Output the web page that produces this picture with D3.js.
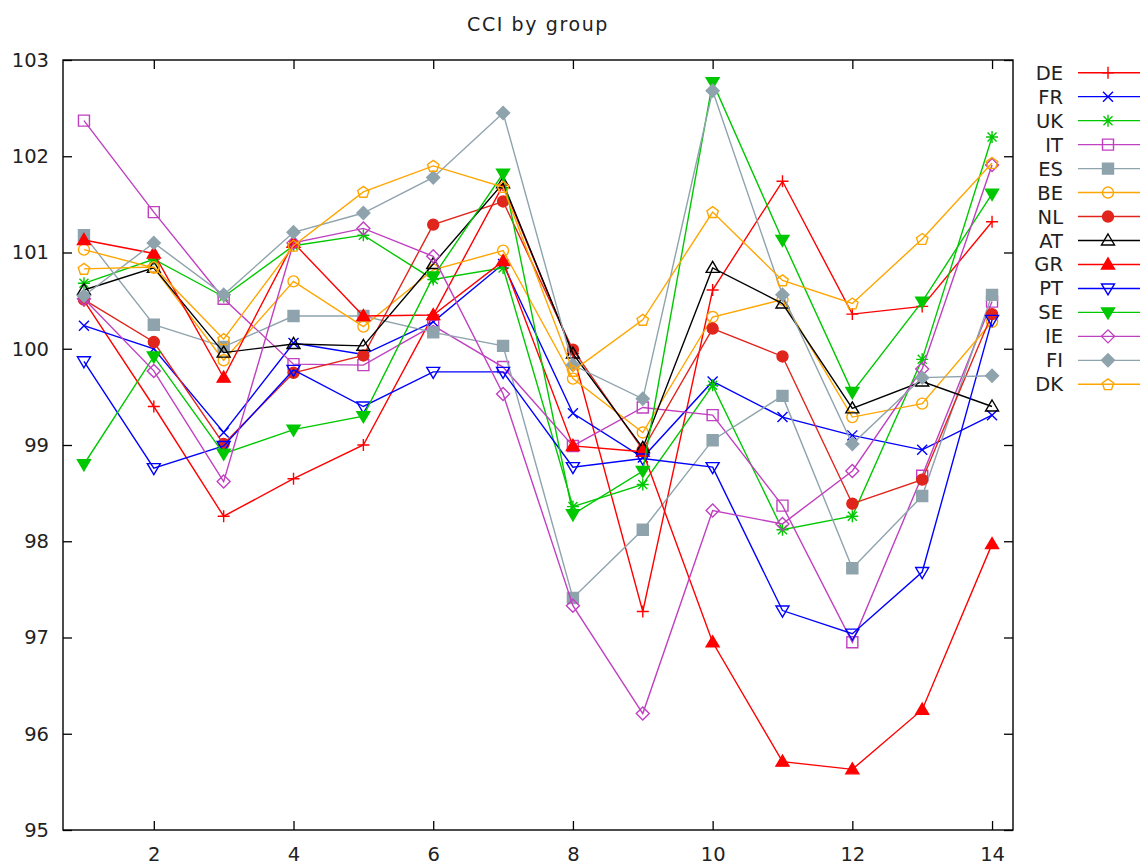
<!DOCTYPE html>
<html>
<head>
<meta charset="utf-8">
<script src="https://cdn.jsdelivr.net/npm/d3@7"></script>
<style>
  html, body { margin: 0; padding: 0; background: #fff; }
  svg { display: block; }
  text { font-family: "DejaVu Sans", Verdana, sans-serif; fill: #222; }
</style>
</head>
<body>
<svg id="chart" width="1146" height="866"></svg>
<script>
// ---------- data ----------
const periods = [1, 2, 3, 4, 5, 6, 7, 8, 9, 10, 11, 12, 13, 14];
const xTicks = [2, 4, 6, 8, 10, 12, 14];
const yTicks = [95, 96, 97, 98, 99, 100, 101, 102, 103];
const seriesNames = ["DE", "FR", "UK", "IT", "ES", "BE", "NL", "AT", "GR", "PT", "SE", "IE", "FI", "DK"];

const DE = [100.50, 99.40, 98.26, 98.65, 99.00, 100.35, 101.70, 99.95, 97.27, 100.61, 101.74, 100.36, 100.44, 101.32];
const FR = [100.24, 100.00, 99.13, 100.06, 99.94, 100.28, 100.88, 99.33, 98.87, 99.66, 99.29, 99.10, 98.95, 99.31];
const UK = [100.68, 100.93, 100.54, 101.07, 101.18, 100.72, 100.84, 98.36, 98.59, 99.62, 98.12, 98.26, 99.89, 102.20];
const IT = [102.37, 101.42, 100.52, 99.84, 99.83, 100.24, 99.81, 98.99, 99.39, 99.31, 98.37, 96.95, 98.68, 100.49];
const ES = [101.18, 100.25, 100.02, 100.34, 100.34, 100.17, 100.03, 97.41, 98.12, 99.05, 99.51, 97.72, 98.47, 100.56];
const BE = [101.03, 100.84, 99.88, 100.70, 100.23, 100.82, 101.02, 99.69, 99.13, 100.33, 100.51, 99.29, 99.43, 100.28];
const NL = [100.51, 100.07, 99.01, 99.75, 99.93, 101.29, 101.53, 99.99, 98.95, 100.21, 99.92, 98.39, 98.64, 100.36];
const AT = [100.61, 100.84, 99.96, 100.05, 100.03, 100.88, 101.72, 99.95, 98.97, 100.84, 100.47, 99.38, 99.66, 99.40];
const GR = [101.13, 100.99, 99.70, 101.10, 100.34, 100.35, 100.91, 98.99, 98.93, 96.95, 95.71, 95.63, 96.25, 97.97];
const PT = [99.87, 98.76, 98.99, 99.78, 99.40, 99.76, 99.76, 98.77, 98.86, 98.77, 97.28, 97.04, 97.68, 100.30];
const SE = [98.80, 99.92, 98.91, 99.16, 99.30, 100.75, 101.82, 98.28, 98.73, 102.77, 101.13, 99.55, 100.49, 101.61];
const IE = [100.52, 99.77, 98.62, 101.10, 101.25, 100.96, 99.53, 97.33, 96.21, 98.32, 98.18, 98.73, 99.79, 101.91];
const FI = [100.55, 101.10, 100.56, 101.21, 101.41, 101.78, 102.45, 99.83, 99.48, 102.68, 100.56, 99.01, 99.70, 99.72];
const DK = [100.83, 100.85, 100.10, 101.07, 101.63, 101.90, 101.68, 99.77, 100.30, 101.42, 100.71, 100.47, 101.14, 101.93];

const seriesValues = [DE, FR, UK, IT, ES, BE, NL, AT, GR, PT, SE, IE, FI, DK];

// ---------- styles ----------
const styles = {
  DE: { color: "#ff0000", marker: "plus", fill: false },
  FR: { color: "#0000ff", marker: "cross", fill: false },
  UK: { color: "#00c800", marker: "star", fill: false },
  IT: { color: "#c040c0", marker: "square", fill: false },
  ES: { color: "#8fa3ad", marker: "square", fill: true },
  BE: { color: "#ffa500", marker: "circle", fill: false },
  NL: { color: "#e0251c", marker: "circle", fill: true },
  AT: { color: "#000000", marker: "triUp", fill: false },
  GR: { color: "#ff0000", marker: "triUp", fill: true },
  PT: { color: "#0000ff", marker: "triDown", fill: false },
  SE: { color: "#00c800", marker: "triDown", fill: true },
  IE: { color: "#c040c0", marker: "diamond", fill: false },
  FI: { color: "#8fa3ad", marker: "diamond", fill: true },
  DK: { color: "#ffa500", marker: "pentagon", fill: false }
};

function markerPath(type) {
  switch (type) {
    case "plus": return "M-6,0H6M0,-6V6";
    case "cross": return "M-5,-5L5,5M-5,5L5,-5";
    case "star": return "M-6,0H6M0,-6V6M-4.5,-4.5L4.5,4.5M-4.5,4.5L4.5,-4.5";
    case "square": return "M-5.5,-5.5H5.5V5.5H-5.5Z";
    case "circle": return "M5.5,0A5.5,5.5,0,1,1,-5.5,0A5.5,5.5,0,1,1,5.5,0Z";
    case "triUp": return "M0,-6.5L6.5,4.5L-6.5,4.5Z";
    case "triDown": return "M0,6.5L6.5,-4.5L-6.5,-4.5Z";
    case "diamond": return "M0,-6.5L6.5,0L0,6.5L-6.5,0Z";
    case "pentagon": {
      const pts = d3.range(5).map(i => {
        const a = -Math.PI / 2 + i * 2 * Math.PI / 5;
        return [6 * Math.cos(a), 6 * Math.sin(a) + 0.5];
      });
      return "M" + pts.map(p => p[0].toFixed(2) + "," + p[1].toFixed(2)).join("L") + "Z";
    }
  }
  return "";
}

// ---------- layout ----------
const svg = d3.select("#chart");
const plot = { left: 63, top: 60, right: 1013, bottom: 830 };

const x = d3.scaleLinear().domain([0.7, 14.3]).range([plot.left, plot.right]);
const y = d3.scaleLinear().domain([95, 103]).range([plot.bottom, plot.top]);

// title
svg.append("text")
  .attr("x", (plot.left + plot.right) / 2)
  .attr("y", 31)
  .attr("text-anchor", "middle")
  .style("font-size", "19px")
  .style("letter-spacing", "1.6px")
  .text("CCI by group");

// axes (inward ticks, mirrored)
const axisLeft = svg.append("g").attr("transform", `translate(${plot.left},0)`)
  .call(d3.axisLeft(y).tickValues(yTicks).tickSize(-9).tickPadding(14).tickFormat(d3.format("d")));
const axisRight = svg.append("g").attr("transform", `translate(${plot.right},0)`)
  .call(d3.axisRight(y).tickValues(yTicks).tickSize(-9).tickFormat(""));
const axisBottom = svg.append("g").attr("transform", `translate(0,${plot.bottom})`)
  .call(d3.axisBottom(x).tickValues(xTicks).tickSize(-9).tickPadding(17).tickFormat(d3.format("d")));
const axisTop = svg.append("g").attr("transform", `translate(0,${plot.top})`)
  .call(d3.axisTop(x).tickValues(xTicks).tickSize(-9).tickFormat(""));

[axisLeft, axisRight, axisBottom, axisTop].forEach(g => {
  g.select(".domain").remove();
  g.selectAll(".tick line").attr("stroke", "#000").attr("stroke-width", 1.3);
  g.selectAll(".tick text").style("font-size", "19.5px").style("font-family", "'DejaVu Sans', Verdana, sans-serif").attr("fill", "#222");
});

svg.append("rect")
  .attr("x", plot.left).attr("y", plot.top)
  .attr("width", plot.right - plot.left).attr("height", plot.bottom - plot.top)
  .attr("fill", "none").attr("stroke", "#000").attr("stroke-width", 1.4);

// series
const line = d3.line().x(d => x(d[0])).y(d => y(d[1]));

seriesNames.forEach((name, i) => {
  const st = styles[name];
  const pts = periods.map((p, j) => [p, seriesValues[i][j]]);
  const g = svg.append("g").attr("class", "series-" + name);
  g.append("path")
    .attr("d", line(pts))
    .attr("fill", "none")
    .attr("stroke", st.color)
    .attr("stroke-width", 1.4);
  g.selectAll("path.mk").data(pts).enter().append("path")
    .attr("class", "mk")
    .attr("transform", d => `translate(${x(d[0])},${y(d[1])})`)
    .attr("d", markerPath(st.marker))
    .attr("fill", st.fill ? st.color : "none")
    .attr("stroke", st.color)
    .attr("stroke-width", 1.4);
});

// legend
const legend = svg.append("g");
seriesNames.forEach((name, i) => {
  const st = styles[name];
  const ly = 72.7 + i * 23.97;
  legend.append("text")
    .attr("x", 1063).attr("y", ly)
    .attr("dy", "0.36em")
    .attr("text-anchor", "end")
    .style("font-size", "19.5px")
    .text(name);
  legend.append("line")
    .attr("x1", 1078).attr("x2", 1140).attr("y1", ly).attr("y2", ly)
    .attr("stroke", st.color).attr("stroke-width", 1.4);
  legend.append("path")
    .attr("transform", `translate(1108,${ly})`)
    .attr("d", markerPath(st.marker))
    .attr("fill", st.fill ? st.color : "none")
    .attr("stroke", st.color)
    .attr("stroke-width", 1.4);
});
</script>
</body>
</html>
